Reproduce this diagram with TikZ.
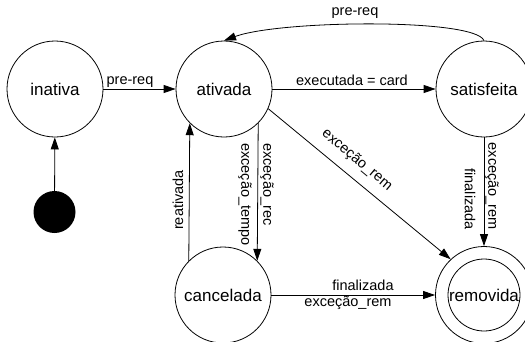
\documentclass[tikz,border=0pt]{standalone}
\usepackage{fontspec}
\setmainfont{Liberation Sans}
\usetikzlibrary{arrows.meta}
\begin{document}
\begin{tikzpicture}[x=1pt,y=-1pt,
  state/.style={circle,draw,line width=0.8pt,minimum size=96pt,inner sep=0pt,
    font=\fontsize{17}{20}\selectfont},
  lbl/.style={font=\fontsize{14.5}{17}\selectfont,inner sep=0pt},
  trans/.style={line width=0.8pt,-{Triangle[length=12pt,width=8pt]}},
]
\clip (0,0) rectangle (525,341);

% states
\node[state] (inativa)    at (55,89)   {inativa};
\node[state] (ativada)    at (224,89)  {ativada};
\node[state] (satisfeita) at (484,89)  {satisfeita};
\node[state] (cancelada)  at (223,295) {cancelada};
\node[state,minimum size=72pt] (removidain) at (484,295) {removida};
\node[state,minimum size=97pt] (removida)   at (484,295) {};
\node[circle,fill=black,minimum size=42pt,inner sep=0pt] (inicio) at (54.5,212) {};

% transitions
\draw[trans] (inicio) -- (inativa);
\draw[trans] (inativa) -- (ativada);
\draw[trans] (ativada) -- (satisfeita);
\draw[trans] (satisfeita.north) .. controls (475,18) and (280,20) .. (ativada.north);
\draw[trans] (ativada.-45) -- (cancelada.45);
\draw[trans] (cancelada.135) -- (ativada.-135);
\draw[trans] (ativada.-24) -- (removida.133);
\draw[trans] (satisfeita.south) -- (removida.north);
\draw[trans] (cancelada) -- (removida);

% labels
\node[lbl] (l1) at (130,82) {pre-req};
\node[lbl] (l2) at (352,80) {executada = card};
\node[lbl] (l3) at (355,13) {pre-req};
\node[lbl,rotate=-90,anchor=west] (l4) at (245,143) {exceção\_tempo};
\node[lbl,rotate=-90,anchor=west] (l5) at (267,143) {exceção\_rec};
\node[lbl,rotate=90] (l6) at (178,200) {reativada};
\node[lbl,rotate=-40] (l7) at (357,160) {exceção\_rem};
\node[lbl,rotate=-90,anchor=east] (l8) at (492,230) {exceção\_rem};
\node[lbl,rotate=-90,anchor=east] (l9) at (470,230) {finalizada};
\node[lbl] (l10) at (363,285) {finalizada};
\node[lbl] (l11) at (348,303) {exceção\_rem};
\end{tikzpicture}
\end{document}
